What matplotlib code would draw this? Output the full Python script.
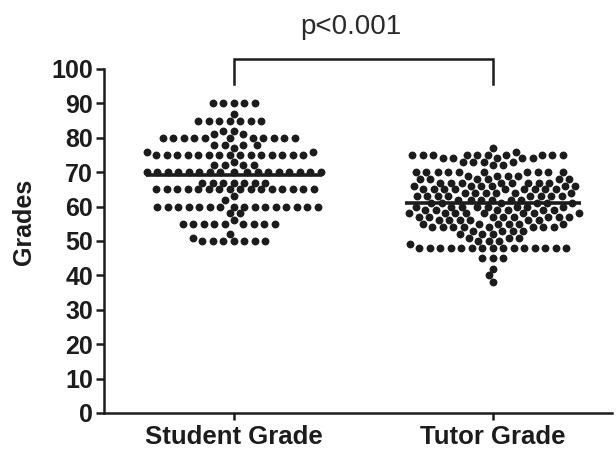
import numpy as np
import matplotlib
matplotlib.use("Agg")
import matplotlib.pyplot as plt

plt.rcParams['font.family'] = ['Liberation Sans', 'DejaVu Sans']

categories = ["Student Grade", "Tutor Grade"]
y_ticks = [0, 10, 20, 30, 40, 50, 60, 70, 80, 90, 100]
y_label = "Grades"
p_text = "p<0.001"

# grade values and how many students had each (listed in placement order)
student_values = [90, 87, 85, 82, 81, 80, 77, 78, 73, 75, 76, 72, 70, 67,
                  65, 63, 62, 60, 58, 56, 55, 50, 51, 52]
student_counts = [5, 1, 7, 2, 2, 11, 1, 4, 1, 15, 2, 4, 17, 7,
                  16, 1, 1, 16, 2, 1, 9, 7, 1, 1]

tutor_values = [38, 40, 42, 45, 48, 49, 50, 51, 52, 53, 54, 55, 56, 57, 58, 59,
                60, 61, 62, 63, 64, 65, 66, 67, 68, 69, 70, 72, 73, 74, 75, 76, 77]
tutor_counts = [1, 1, 1, 3, 15, 1, 3, 3, 3, 4, 8, 6, 6, 8, 8, 6,
                8, 6, 6, 8, 6, 9, 6, 8, 6, 4, 10, 2, 4, 5, 10, 1, 1]

student = np.repeat(student_values, student_counts).astype(float)
tutor = np.repeat(tutor_values, tutor_counts).astype(float)
groups = [student, tutor]

DPI = 100
fig = plt.figure(figsize=(6.16, 4.53), dpi=DPI)
ax = fig.add_axes([104 / 616, 40 / 453, 508 / 616, 344 / 453])
ax.set_xlim(-0.502, 1.46)
ax.set_ylim(0, 100)

ink = '#1c1c1c'


def swarm(vals, xc, dx_min=10.5, dy_min=7.5):
    pts = ax.transData.transform(np.column_stack([np.full(len(vals), xc), vals]))
    xc_px = pts[0, 0]
    placed = []
    for y in pts[:, 1]:
        neigh = [(px, py) for px, py in placed if abs(py - y) < dy_min]
        cands = [0.0]
        for px, py in neigh:
            off = dx_min * np.sqrt(max(0.0, 1 - ((py - y) / dy_min) ** 2))
            cands += [px + off, px - off]
        cands = sorted(cands, key=lambda c: (round(abs(c), 6), c))
        chosen = cands[-1]
        for c in cands:
            if all(((c - px) / dx_min) ** 2 + ((py - y) / dy_min) ** 2 >= 1 - 1e-6
                   for px, py in neigh):
                chosen = c
                break
        placed.append((chosen, y))
    disp = np.array([[xc_px + c, y] for c, y in placed])
    return ax.transData.inverted().transform(disp)


for i, g in enumerate(groups):
    xy = swarm(g, i)
    ax.scatter(xy[:, 0], xy[:, 1], s=32, color=ink, linewidths=0, zorder=3)
    m = g.mean()
    ax.plot([i - 0.34, i + 0.34], [m, m], color=ink, lw=2.6, zorder=4,
            solid_capstyle='butt')

for s in ['top', 'right']:
    ax.spines[s].set_visible(False)
for s in ['left', 'bottom']:
    ax.spines[s].set_linewidth(1.8)
    ax.spines[s].set_color(ink)

ax.set_yticks(y_ticks)
ax.set_xticks([0, 1])
ax.set_xticklabels(categories)
ax.tick_params(axis='y', length=6, width=1.8, color=ink, pad=2,
               labelsize=18, labelcolor=ink)
ax.tick_params(axis='x', length=5, width=1.8, color=ink, pad=4,
               labelsize=18.5, labelcolor=ink)
for lab in ax.get_xticklabels() + ax.get_yticklabels():
    lab.set_fontweight('bold')

ax.set_ylabel(y_label, fontsize=18, fontweight='bold', color=ink)
ax.yaxis.set_label_coords(-0.134, 0.555)

# significance bracket
ax.plot([0, 0, 1, 1], [95.5, 102.9, 102.9, 95.5], color=ink, lw=1.8,
        clip_on=False, solid_joinstyle='miter')
ax.text(0.45, 112.3, p_text, ha='center', va='center', fontsize=20,
        color='#2a2a2a', clip_on=False)

fig.savefig('out.png', dpi=DPI)
